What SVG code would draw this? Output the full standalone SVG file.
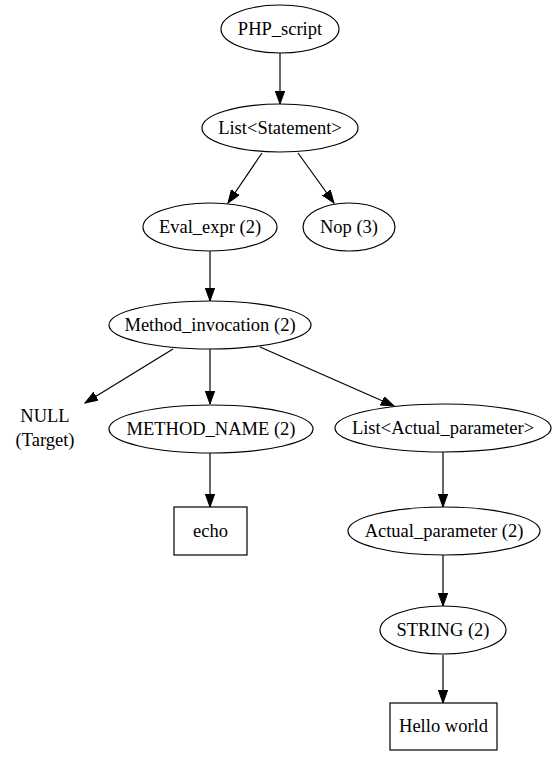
<svg xmlns="http://www.w3.org/2000/svg" width="557" height="757" viewBox="0 0 557 757">
<style>
.n{fill:none;stroke:#000;stroke-width:1.2}
.t{font-family:"Liberation Serif","Times New Roman",serif;font-size:18.5px;fill:#000;text-anchor:middle}
.e{stroke:#000;stroke-width:1.2;fill:none}
</style>
<defs>
<marker id="a" markerUnits="userSpaceOnUse" markerWidth="14" markerHeight="10" refX="13" refY="4.7" orient="auto">
<path d="M0,0 L13,4.7 L0,9.4 z" fill="#000" stroke="#000" stroke-width="1"/>
</marker>
</defs>
<rect width="557" height="757" fill="#fff"/>
<g id="edges">
<line class="e" x1="280" y1="53" x2="280" y2="104" marker-end="url(#a)"/>
<line class="e" x1="262" y1="153" x2="228" y2="203" marker-end="url(#a)"/>
<line class="e" x1="298" y1="153" x2="334" y2="203" marker-end="url(#a)"/>
<line class="e" x1="210" y1="251" x2="210" y2="301" marker-end="url(#a)"/>
<line class="e" x1="173" y1="349" x2="85" y2="403" marker-end="url(#a)"/>
<line class="e" x1="210" y1="349" x2="210" y2="404" marker-end="url(#a)"/>
<line class="e" x1="260" y1="347" x2="394" y2="406" marker-end="url(#a)"/>
<line class="e" x1="210" y1="453" x2="210" y2="507" marker-end="url(#a)"/>
<line class="e" x1="443" y1="452" x2="443" y2="507" marker-end="url(#a)"/>
<line class="e" x1="443" y1="555" x2="443" y2="606" marker-end="url(#a)"/>
<line class="e" x1="443" y1="655" x2="443" y2="703" marker-end="url(#a)"/>
</g>
<g id="php_script"><ellipse class="n" cx="280" cy="29" rx="59" ry="24"/><text class="t" x="280" y="35">PHP_script</text></g>
<g id="list_statement"><ellipse class="n" cx="280" cy="128" rx="78" ry="24"/><text class="t" x="280" y="134">List&lt;Statement&gt;</text></g>
<g id="eval_expr"><ellipse class="n" cx="210" cy="227" rx="67" ry="24"/><text class="t" x="210" y="233">Eval_expr (2)</text></g>
<g id="nop"><ellipse class="n" cx="349" cy="227" rx="46" ry="24"/><text class="t" x="349" y="233">Nop (3)</text></g>
<g id="method_invocation"><ellipse class="n" cx="210" cy="325" rx="101" ry="24"/><text class="t" x="210" y="331">Method_invocation (2)</text></g>
<g id="null_target"><text class="t" x="45" y="422">NULL</text><text class="t" x="45" y="446">(Target)</text></g>
<g id="method_name"><ellipse class="n" cx="211" cy="429" rx="102" ry="24"/><text class="t" x="211" y="435">METHOD_NAME (2)</text></g>
<g id="list_actual_parameter"><ellipse class="n" cx="443" cy="428" rx="108" ry="24"/><text class="t" x="443" y="434">List&lt;Actual_parameter&gt;</text></g>
<g id="echo"><rect class="n" x="174" y="507" width="73" height="48"/><text class="t" x="210.5" y="537">echo</text></g>
<g id="actual_parameter"><ellipse class="n" cx="444" cy="531" rx="96" ry="24"/><text class="t" x="444" y="537">Actual_parameter (2)</text></g>
<g id="string"><ellipse class="n" cx="443" cy="630" rx="63" ry="24"/><text class="t" x="443" y="636">STRING (2)</text></g>
<g id="hello_world"><rect class="n" x="390" y="703" width="107" height="47"/><text class="t" x="443.5" y="732">Hello world</text></g>
</svg>
